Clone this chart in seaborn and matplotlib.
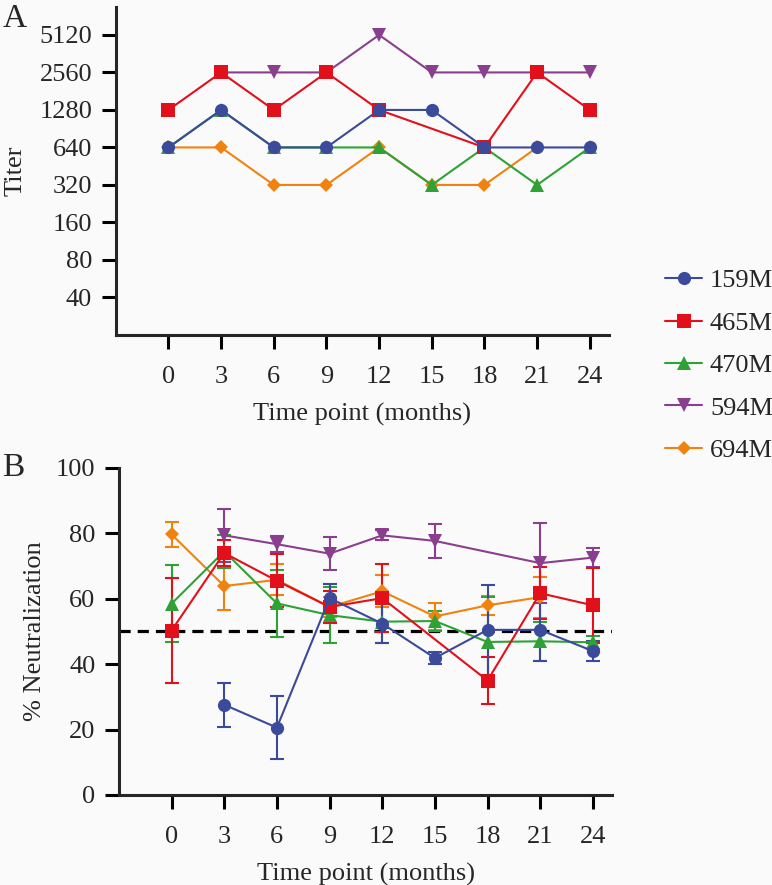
import numpy as np
import pandas as pd
import matplotlib
matplotlib.use("Agg")
import matplotlib.pyplot as plt
import seaborn as sns
from matplotlib.lines import Line2D

nan = np.nan

# time points (months)
months = [0, 3, 6, 9, 12, 15, 18, 21, 24]
samples = ['159M', '465M', '470M', '594M', '694M']

# Panel A: titers
titer_159M = [640, 1280, 640, 640, 1280, 1280, 640, 640, 640]
titer_465M = [1280, 2560, 1280, 2560, 1280, nan, 640, 2560, 1280]
titer_470M = [640, 1280, 640, 640, 640, 320, 640, 320, 640]
titer_594M = [nan, 2560, 2560, 2560, 5120, 2560, 2560, 2560, 2560]
titer_694M = [640, 640, 320, 320, 640, 320, 320, 640, nan]

# Panel B: % neutralization (mean and SD)
neut_159M = [nan, 27.6, 20.6, 60.2, 52.4, 41.9, 50.5, 50.5, 44.0]
sd_159M = [nan, 6.7, 9.6, 4.2, 6.0, 1.8, 13.7, 9.5, 3.0]
neut_465M = [50.3, 74.0, 65.5, 57.5, 60.2, nan, 35.0, 61.7, 58.0]
sd_465M = [16.0, 4.0, 8.1, 5.0, 10.3, nan, 7.2, 8.0, 11.5]
neut_470M = [58.5, 74.5, 58.6, 55.0, 53.0, 53.2, 46.8, 47.0, 46.7]
sd_470M = [11.7, 5.0, 10.3, 8.6, 6.5, 3.2, 13.9, 6.0, 2.0]
neut_594M = [nan, 79.4, 76.7, 73.8, 79.4, 77.7, nan, 70.9, 72.6]
sd_594M = [nan, 8.2, 2.5, 5.0, 1.5, 5.2, nan, 12.3, 2.8]
neut_694M = [79.7, 63.9, 65.8, 57.5, 62.3, 54.6, 58.0, 60.5, nan]
sd_694M = [3.9, 7.3, 4.7, 3.0, 4.9, 4.0, 3.0, 6.3, nan]

titers = [titer_159M, titer_465M, titer_470M, titer_594M, titer_694M]
neuts = [neut_159M, neut_465M, neut_470M, neut_594M, neut_694M]
sds = [sd_159M, sd_465M, sd_470M, sd_594M, sd_694M]

colors = ['#3b4a9a', '#e2101b', '#2fa236', '#8a3f8e', '#f0830f']
markers = ['o', 's', '^', 'v', 'D']
msizes = [9.5, 10, 10, 10, 7.5]

sns.set_style("ticks")
plt.rcParams['font.family'] = ['Liberation Serif', 'DejaVu Serif']
plt.rcParams['font.size'] = 19

fig = plt.figure(figsize=(7.72, 8.85), dpi=100, facecolor='#fafafa')
axA = fig.add_axes([0.150, 0.6215, 0.639, 0.3706])
axB = fig.add_axes([0.154, 0.1017, 0.639, 0.3695])
for ax in (axA, axB):
    ax.set_facecolor('#fafafa')

# draw in reverse so 159M ends on top
order = [4, 3, 2, 1, 0]

# Panel A
for i in order:
    d = pd.DataFrame({'month': months, 'titer': titers[i]}).dropna()
    sns.lineplot(data=d, x='month', y='titer', ax=axA, color=colors[i],
                 marker=markers[i], markersize=msizes[i], markeredgewidth=0,
                 linewidth=1.5, zorder=3)
axA.set_yscale('log', base=2)
axA.set_ylim(20, 8580)
axA.set_yticks([40, 80, 160, 320, 640, 1280, 2560, 5120])
axA.set_yticklabels(['40', '80', '160', '320', '640', '1280', '2560', '5120'])
axA.minorticks_off()
axA.set_ylabel('Titer')
axA.yaxis.set_label_coords(-0.18, 0.5)

# Panel B
axB.axhline(50, color='black', linestyle=(0, (3.5, 2.2)), linewidth=2.3, zorder=1.5)
for i in order:
    d = pd.DataFrame({'month': months, 'neut': neuts[i], 'sd': sds[i]}).dropna()
    axB.errorbar(d['month'], d['neut'], yerr=d['sd'], fmt='none', ecolor=colors[i],
                 elinewidth=1.5, capsize=5, capthick=1.5, zorder=2)
    sns.lineplot(data=d, x='month', y='neut', ax=axB, color=colors[i],
                 marker=markers[i], markersize=msizes[i], markeredgewidth=0,
                 linewidth=1.5, zorder=3)
axB.set_ylim(0, 100)
axB.set_yticks([0, 20, 40, 60, 80, 100])
axB.set_ylabel('% Neutralization')
axB.yaxis.set_label_coords(-0.148, 0.5)

for ax in (axA, axB):
    ax.set_xlim(-3, 25.1)
    ax.set_xticks(months)
    ax.set_xlabel('Time point (months)', labelpad=11)
    sns.despine(ax=ax)
    for s in ('left', 'bottom'):
        ax.spines[s].set_linewidth(2.2)
    ax.tick_params(axis='both', width=2.2, length=10, color='black', labelsize=19)
    ax.tick_params(axis='x', pad=12)
    ax.tick_params(axis='y', pad=7)

fig.text(0.003, 0.979, 'A', fontsize=24, va='center', ha='left')
fig.text(0.003, 0.471, 'B', fontsize=24, va='center', ha='left')

handles = [Line2D([], [], color=colors[i], marker=markers[i], markersize=msizes[i],
                  markeredgewidth=0, linewidth=1.5) for i in range(5)]
fig.legend(handles, samples, loc='center left', bbox_to_anchor=(0.8615, 0.587),
           frameon=False, fontsize=19, handlelength=1.4, handletextpad=0.3,
           labelspacing=0.72, borderpad=0, borderaxespad=0)

fig.savefig('out.png', dpi=100, facecolor=fig.get_facecolor())
